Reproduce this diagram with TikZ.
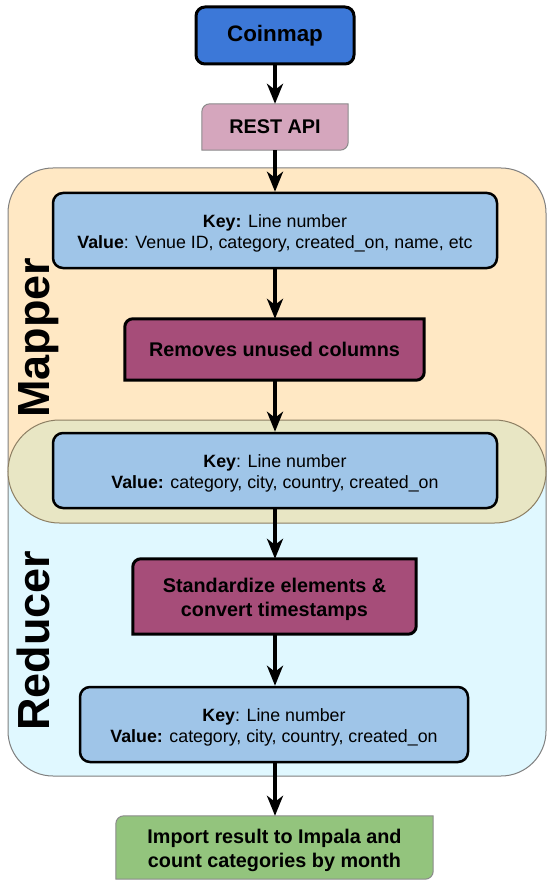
\documentclass[tikz,border=0pt]{standalone}
\usepackage{fontspec}
\setmainfont{Liberation Sans}
\usetikzlibrary{arrows.meta,shapes.misc}
\definecolor{coinblue}{HTML}{3C78D8}
\definecolor{restpink}{HTML}{D5A6BD}
\definecolor{removeplum}{HTML}{A64D79}
\definecolor{importgreen}{HTML}{93C47D}
\definecolor{keyblue}{HTML}{9FC5E8}
\definecolor{mapfill}{HTML}{FFE8C4}
\definecolor{redfill}{HTML}{E0F8FF}
\definecolor{stadfill}{HTML}{E8E6C4}
\definecolor{stadborder}{HTML}{8C7E62}
\definecolor{regborder}{HTML}{7F7F7F}
\definecolor{thinborder}{HTML}{8A8A8A}
\pgfdeclarelayer{regions}
\pgfdeclarelayer{shapes}
\pgfsetlayers{regions,shapes,main}
\newcommand\halfround[2]{%
  \path[#2] (#1.south west) -- ([yshift=-8pt]#1.north west)
    arc[start angle=180,end angle=90,radius=8pt] -- (#1.north east)
    -- ([yshift=8pt]#1.south east)
    arc[start angle=0,end angle=-90,radius=8pt] -- cycle;}
\newcommand\topstrut{\rule{0pt}{19pt}}
\newcommand\cardstrut{\rule{0pt}{20pt}}
\begin{document}
\begin{tikzpicture}[x=1pt,y=1pt,
  flow/.style={line width=4pt,-{Stealth[length=20pt,width=16pt,inset=6pt]}},
  keybox/.style={draw=black,line width=2.5pt,fill=keyblue,rounded corners=10pt,
    minimum height=75pt,inner sep=0pt,align=center,
    font=\fontsize{17.8}{21}\selectfont},
  cardnode/.style={inner sep=0pt,align=center,font=\fontsize{19.8}{24}\selectfont\bfseries},
  sidelabel/.style={rotate=90,anchor=base west,inner sep=0pt,
    font=\fontsize{45}{50}\selectfont\bfseries}]
\useasboundingbox (0,0) rectangle (551,-885);

% regions
\begin{pgfonlayer}{regions}
\path[fill=mapfill,draw=regborder,line width=1pt,rounded corners=45pt]
  (8,-471) -- (8,-168) -- (546,-168) -- (546,-471);
\path[fill=redfill,draw=regborder,line width=1pt,rounded corners=45pt]
  (8,-471) -- (8,-776) -- (546,-776) -- (546,-471);
\node[draw=stadborder,fill=stadfill,line width=1pt,rounded rectangle,
  minimum width=538pt,minimum height=103pt,inner sep=0pt] (overlap) at (277,-471.5) {};
\end{pgfonlayer}

\node[sidelabel] (mapper) at (49,-418) {Mapper};
\node[sidelabel] (reducer) at (49,-731) {Reducer};

% nodes
\node[draw=black,line width=3pt,fill=coinblue,rounded corners=9pt,
  minimum width=158pt,minimum height=57pt,inner sep=0pt,
  font=\fontsize{22.4}{26}\selectfont\bfseries] (coin) at (275,-35.5) {\raisebox{-2pt}{Coinmap}};
\node[cardnode,minimum width=146pt,minimum height=46pt] (rest) at (275,-127) {REST API};
\node[keybox,minimum width=444pt] (key1) at (275,-230.5)
  {\topstrut\textbf{Key:} Line number\\\textbf{Value}: Venue ID, category, created\_on, name, etc};
\node[cardnode,minimum width=299pt,minimum height=61pt] (remove) at (274.5,-349.5) {Removes unused columns};
\node[keybox,minimum width=444pt] (key2) at (275,-470.5)
  {\topstrut\textbf{Key}: Line number\\\textbf{Value:} category, city, country, created\_on};
\node[cardnode,minimum width=283pt,minimum height=75pt] (std) at (274.5,-596.5)
  {\cardstrut Standardize elements \&\\convert timestamps};
\node[keybox,minimum width=388pt] (key3) at (274,-724.5)
  {\topstrut\textbf{Key}: Line number\\\textbf{Value:} category, city, country, created\_on};
\node[cardnode,minimum width=317pt,minimum height=63pt] (import) at (274.5,-847.5)
  {\cardstrut Import result to Impala and\\count categories by month};

\begin{pgfonlayer}{shapes}
\halfround{rest}{fill=restpink,draw=thinborder,line width=1pt}
\halfround{remove}{fill=removeplum,draw=black,line width=3pt}
\halfround{std}{fill=removeplum,draw=black,line width=3pt}
\halfround{import}{fill=importgreen,draw=thinborder,line width=1pt}
\end{pgfonlayer}

% connectors
\draw[flow] (coin.south) -- (rest.north);
\draw[flow] (rest.south) -- (key1.north);
\draw[flow] (key1.south) -- (key1.south |- remove.north);
\draw[flow] (key1.south |- remove.south) -- (key2.north);
\draw[flow] (key2.south) -- (key2.south |- std.north);
\draw[flow] (key2.south |- std.south) -- (key2.south |- key3.north);
\draw[flow] (key2.south |- key3.south) -- (key2.south |- import.north);
\end{tikzpicture}
\end{document}
